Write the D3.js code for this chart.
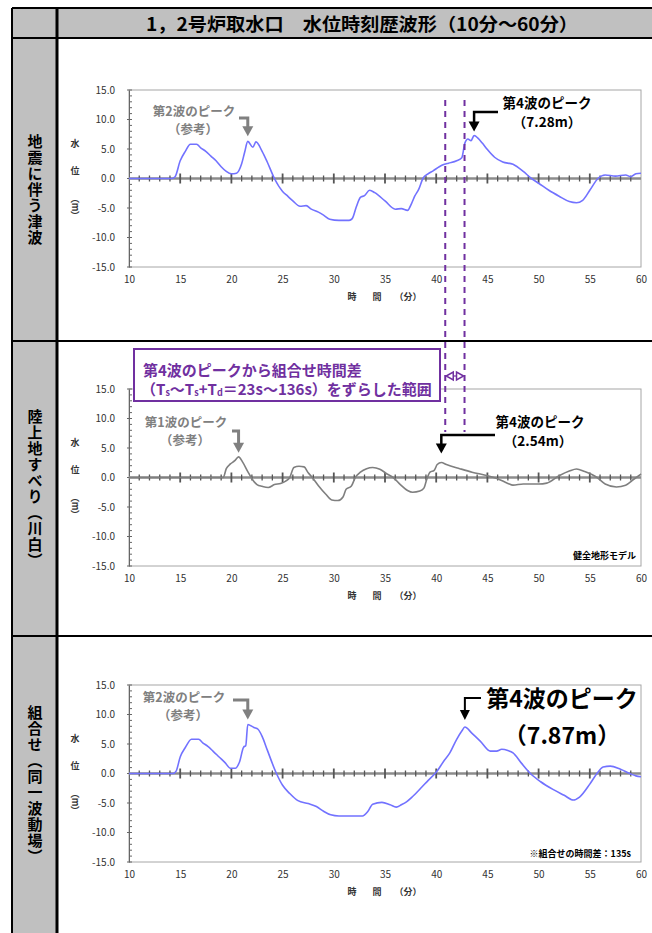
<!DOCTYPE html>
<html>
<head>
<meta charset="utf-8">
<script src="https://cdn.jsdelivr.net/npm/d3@7"></script>
<style>
  body { margin: 0; background: #fff; }
  svg { display: block; }
  text { font-family: "Noto Sans CJK JP", "Noto Sans", sans-serif; }
</style>
</head>
<body>
<svg id="chart" width="652" height="933"></svg>
<script>
// ---- text and axis labels ----
const title = "1，2号炉取水口　水位時刻歴波形（10分～60分）";
const rowLabels = ["地震に伴う津波", "陸上地すべり（川白）", "組合せ（同一波動場）"];
const xTicks = [10, 15, 20, 25, 30, 35, 40, 45, 50, 55, 60];
const yTicks = [15, 10, 5, 0, -5, -10, -15];

// ---- water level time histories [minutes, metres] ----
const quakeWave = [
  [10, 0], [14.2, 0], [14.5, 0.3], [15, 3.0], [15.5, 4.6], [16, 5.8], [16.6, 5.8],
  [17, 5.2], [17.5, 4.6], [18, 3.8], [18.5, 3.0], [19, 2.0], [19.5, 1.2], [20, 0.8],
  [20.5, 0.9], [21, 2.5], [21.3, 4.5], [21.6, 6.3], [22.1, 5.3], [22.4, 6.2],
  [23, 4.6], [23.5, 2.8], [24.2, 0], [25, -2.2], [25.5, -3.0], [26, -3.8],
  [26.7, -4.7], [27.3, -4.6], [27.8, -5.2], [28.5, -5.7], [29, -6.2], [29.6, -6.9],
  [30.5, -7.1], [31.5, -7.1], [31.8, -6.8], [32.2, -4.8], [32.6, -3.2], [33, -2.9],
  [33.5, -2.0], [34, -2.4], [35, -3.8], [36, -5.2], [36.6, -5.1], [37.2, -5.4],
  [37.6, -4.2], [37.9, -3.0], [38.3, -1.8], [38.7, 0], [39.2, 0.8], [39.7, 1.3],
  [40.3, 2.0], [40.8, 2.4], [41.2, 2.6], [42, 3.0], [42.5, 3.5], [42.8, 6.0],
  [43.1, 6.7], [43.4, 6.4], [43.7, 7.28], [44.1, 6.8], [44.5, 6.0], [45, 4.9],
  [45.7, 3.6], [46.5, 2.8], [47.5, 2.4], [48.5, 1.2], [49.3, 0], [50, -0.8],
  [51, -2.0], [52, -3.0], [53, -3.9], [53.7, -4.1], [54.3, -3.7], [55, -2.0],
  [55.8, 0], [56.5, 0.6], [57.5, 0.4], [58.5, 0.6], [59, 0.3], [59.5, 0.8], [60, 0.9]
];

const slideWave = [
  [10, 0], [19.2, 0], [19.5, 1.5], [19.9, 2.3], [20.3, 2.8], [20.7, 3.5], [21.1, 2.6],
  [21.6, 1.0], [22, -0.2], [22.5, -1.2], [23, -1.5], [23.6, -1.7], [24.2, -1.2],
  [24.8, -1.0], [25.3, -0.6], [25.7, 0.0], [26.1, 1.7], [26.6, 1.9], [27.1, 1.8],
  [27.5, 0.8], [27.9, 0], [28.5, -1.4], [29.2, -2.8], [29.8, -3.8], [30.4, -3.9],
  [30.9, -3.3], [31.2, -2.0], [31.7, -1.5], [32.1, 0], [32.6, 0.9], [33.2, 1.5],
  [33.8, 1.7], [34.5, 1.4], [35.2, 0.6], [35.8, 0], [36.5, -1.2], [37.2, -2.2],
  [37.7, -2.5], [38.4, -2.3], [38.8, -1.8], [39.1, -0.2], [39.4, 0.9], [39.8, 1.2],
  [40.1, 2.2], [40.5, 2.54], [41, 2.2], [42.3, 1.5], [43.5, 0.9], [44.9, 0.35],
  [46, -0.2], [47, -1.0], [47.5, -1.3], [48.5, -1.1], [50, -1.1], [50.8, -0.95],
  [52, 0.3], [53, 1.1], [53.7, 1.45], [54.5, 1.0], [55.7, 0], [56.5, -1.1],
  [57.6, -1.6], [58.5, -1.3], [59.3, -0.3], [60, 0.6]
];

const comboWave = [
  [10, 0], [14.3, 0], [14.6, 0.4], [15, 2.8], [15.5, 4.4], [16.1, 5.8], [16.8, 5.8],
  [17.2, 5.2], [17.7, 4.6], [18.2, 3.8], [18.8, 2.8], [19.4, 1.8], [19.9, 0.9],
  [20.4, 0.9], [20.8, 2.0], [21.2, 4.5], [21.4, 4.7], [21.6, 8.3], [21.9, 8.1],
  [22.2, 7.8], [22.6, 7.5], [23, 6.3], [23.5, 4.0], [24.4, 0], [25, -2.0],
  [25.7, -3.4], [26.5, -4.6], [27.5, -5.1], [28.3, -5.6], [29, -6.4], [29.7, -7.0],
  [30.5, -7.2], [32.8, -7.2], [33.3, -6.5], [33.8, -5.2], [34.7, -4.9], [35.5, -5.3],
  [36.1, -5.7], [36.6, -5.3], [37.1, -4.8], [37.7, -3.9], [38.6, -2.3], [39.2, -1.2],
  [40, 0.2], [40.7, 2.0], [41.3, 3.4], [42, 5.8], [42.5, 7.2], [42.8, 7.87],
  [43.5, 6.8], [44.3, 5.5], [45.3, 3.8], [45.9, 3.8], [46.4, 4.1], [47, 3.9],
  [47.5, 3.5], [48.3, 1.8], [49.2, 0], [50.2, -1.4], [51.4, -2.7], [52.5, -3.7],
  [53.4, -4.5], [54, -4.0], [55, -1.8], [55.7, 0], [56.3, 1.1], [57, 1.25],
  [58, 0.7], [58.9, 0], [59.5, -0.4], [60, -0.55]
];

// time lag window applied to the landslide 4th-wave peak, seconds
const lagWindow = [23, 136];
const comboLag = 135;

// ---- drawing ----
const svg = d3.select("#chart");
const purple = "#7030a0";
const grayFill = "#c0c0c0";

// table frame
svg.append("rect").attr("x", 12).attr("y", 8).attr("width", 640).attr("height", 30).attr("fill", grayFill);
svg.append("rect").attr("x", 12).attr("y", 8).attr("width", 45).attr("height", 925).attr("fill", grayFill);
const frame = svg.append("g").attr("stroke", "#000");
[8, 38, 341, 636].forEach(yy => frame.append("line").attr("x1", 12).attr("x2", 652).attr("y1", yy).attr("y2", yy).attr("stroke-width", 2));
frame.append("line").attr("x1", 12).attr("x2", 12).attr("y1", 8).attr("y2", 933).attr("stroke-width", 2);
frame.append("line").attr("x1", 57).attr("x2", 57).attr("y1", 8).attr("y2", 933).attr("stroke-width", 3);

svg.append("text").attr("x", 362).attr("y", 23).attr("text-anchor", "middle")
  .attr("dominant-baseline", "central").attr("font-size", 18).attr("font-weight", 700)
  .attr("textLength", 432).attr("lengthAdjust", "spacingAndGlyphs").text(title);

const rowMid = [189.5, 488.5, 784.5];
rowLabels.forEach((lab, i) => {
  svg.append("text").attr("x", 35).attr("y", rowMid[i]).attr("text-anchor", "middle")
    .style("writing-mode", "vertical-rl").attr("font-size", 15).attr("font-weight", 700)
    .attr("letter-spacing", 1).text(lab);
});

const x = d3.scaleLinear().domain([10, 60]).range([129, 641]);

const panels = [
  { top: 90, data: quakeWave, color: "#7272ff" },
  { top: 389, data: slideWave, color: "#7f7f7f" },
  { top: 685, data: comboWave, color: "#7272ff" }
];

panels.forEach((p, i) => {
  const y = d3.scaleLinear().domain([-15, 15]).range([p.top + 177, p.top]);
  p.y = y;
  const g = svg.append("g");

  g.append("rect").attr("x", x(10)).attr("y", y(15)).attr("width", x(60) - x(10))
    .attr("height", y(-15) - y(15)).attr("fill", "#fff").attr("stroke", "#a6a6a6");

  // y axis with labels
  const ay = g.append("g").attr("transform", `translate(${x(10)},0)`)
    .call(d3.axisLeft(y).tickValues(yTicks).tickFormat(d => d.toFixed(1)).tickSize(0).tickPadding(14));
  ay.select(".domain").attr("stroke", "#666");
  ay.selectAll("text").attr("font-size", 10).attr("fill", "#333").attr("font-family", "Noto Sans CJK JP");
  g.append("g").selectAll("line").data(d3.range(-15, 16)).join("line")
    .attr("x1", d => d % 5 === 0 ? x(10) - 2 : x(10)).attr("x2", x(10) + 3)
    .attr("y1", d => y(d)).attr("y2", d => y(d)).attr("stroke", "#666");

  // x axis labels under the plot
  const ax = g.append("g").attr("transform", `translate(0,${y(-15)})`)
    .call(d3.axisBottom(x).tickValues(xTicks).tickSize(0).tickPadding(9));
  ax.select(".domain").remove();
  ax.selectAll("text").attr("font-size", 10).attr("fill", "#333").attr("font-family", "Noto Sans CJK JP");

  const lb = y(-15) + 29;
  [["時", 352], ["間", 377], ["（分）", 408]].forEach(([t, xx]) =>
    g.append("text").attr("x", xx).attr("y", lb).attr("text-anchor", "middle")
      .attr("dominant-baseline", "central").attr("font-size", 9).attr("font-weight", 700)
      .attr("fill", "#333").text(t));

  // y title
  g.append("text").attr("x", 75).attr("y", p.top + 53).attr("text-anchor", "middle")
    .attr("dominant-baseline", "central").attr("font-size", 9).attr("font-weight", 700).attr("fill", "#333").text("水");
  g.append("text").attr("x", 75).attr("y", p.top + 80).attr("text-anchor", "middle")
    .attr("dominant-baseline", "central").attr("font-size", 9).attr("font-weight", 700).attr("fill", "#333").text("位");
  g.append("text").attr("x", 75).attr("y", p.top + 117).attr("text-anchor", "middle")
    .style("writing-mode", "vertical-rl").attr("font-size", 9).attr("font-weight", 700).attr("fill", "#333").text("（m）");

  // zero line with minute ticks
  const zy = y(0);
  g.append("line").attr("x1", x(10)).attr("x2", x(60)).attr("y1", zy).attr("y2", zy)
    .attr("stroke", "#8c8c8c").attr("stroke-width", 2.5);
  g.append("g").selectAll("line").data(d3.range(11, 60)).join("line")
    .attr("x1", d => x(d)).attr("x2", d => x(d))
    .attr("y1", d => zy - (d % 5 === 0 ? 5 : 3)).attr("y2", d => zy + (d % 5 === 0 ? 5 : 3))
    .attr("stroke", "#555").attr("stroke-width", d => d % 5 === 0 ? 1.8 : 1.3);

  const line = d3.line().x(d => x(d[0])).y(d => y(d[1])).curve(d3.curveMonotoneX);
  g.append("path").datum(p.data).attr("d", line).attr("fill", "none")
    .attr("stroke", p.color).attr("stroke-width", 1.6);
});

// peak helpers
function peakIn(data, t0, t1) {
  return d3.greatest(data.filter(d => d[0] >= t0 && d[0] <= t1), d => d[1]);
}

function arrow(pk, y, startX, elbowY, gap, color, w, head) {
  const tx = x(pk[0]), ty = y(pk[1]) - gap;
  svg.append("path").attr("d", `M${startX},${elbowY}H${tx}V${ty - head[1] + 1}`)
    .attr("fill", "none").attr("stroke", color).attr("stroke-width", w);
  svg.append("path").attr("d", `M${tx - head[0] / 2},${ty - head[1]}L${tx + head[0] / 2},${ty - head[1]}L${tx},${ty}Z`)
    .attr("fill", color);
}

function label(t, xx, yy, size, color, anchor) {
  return svg.append("text").attr("x", xx).attr("y", yy).attr("text-anchor", anchor || "middle")
    .attr("dominant-baseline", "central").attr("font-size", size).attr("font-weight", 700)
    .attr("fill", color).text(t);
}

// two-line callout drawn as one text block
function label2(lines, xs, yy, lineGap, size, color) {
  const t = svg.append("text").attr("y", yy).attr("text-anchor", "middle")
    .attr("dominant-baseline", "central").attr("font-size", size).attr("font-weight", 700)
    .attr("fill", color);
  lines.forEach((s, k) => t.append("tspan").attr("x", xs[k]).attr("dy", k === 0 ? 0 : lineGap).text(s));
  return t;
}

const refGray = "#808080";
const [p1, p2, p3] = panels;

// panel 1
const q2 = peakIn(quakeWave, 20, 23), q4 = peakIn(quakeWave, 38, 60);
label2(["第2波のピーク", "（参考）"], [194, 193], 110, 17.5, 12.5, refGray);
arrow(q2, p1.y, 239, 118, 5, refGray, 3, [11, 10]);
label2(["第4波のピーク", `（${q4[1].toFixed(2)}m）`], [547, 547], 102, 19, 13.5, "#000");
arrow(q4, p1.y, 498, 112, 4, "#000", 2.5, [11, 10]);

// panel 2
const s1 = peakIn(slideWave, 19, 23), s4 = peakIn(slideWave, 38, 60);
label2(["第1波のピーク", "（参考）"], [186, 185], 421, 18, 12.5, refGray);
arrow(s1, p2.y, 232, 431, 4, refGray, 3, [11, 10]);
label2(["第4波のピーク", `（${s4[1].toFixed(2)}m）`], [540, 538], 421, 19, 13.5, "#000");
arrow(s4, p2.y, 495, 435, 9, "#000", 2.5, [11, 10]);
label("健全地形モデル", 636, 555, 9, "#000", "end");

// panel 3
const c2 = peakIn(comboWave, 20, 23), c4 = peakIn(comboWave, 38, 60);
label2(["第2波のピーク", "（参考）"], [184, 183], 696, 17.5, 12.5, refGray);
arrow(c2, p3.y, 233, 700, 5, refGray, 3, [11, 10]);
label2(["第4波のピーク", `（${c4[1].toFixed(2)}m）`], [562, 562], 697, 37, 23, "#000");
arrow(c4, p3.y, 481, 698, 7, "#000", 2, [10, 10]);
label(`※組合せの時間差：${comboLag}s`, 631, 853, 9, "#000", "end");

// lag window lines from the landslide 4th-wave peak
const lagX = lagWindow.map(s => x(s4[0] + s / 60));
lagX.forEach(xx => svg.append("line").attr("x1", xx).attr("x2", xx).attr("y1", 100).attr("y2", 432)
  .attr("stroke", purple).attr("stroke-width", 2).attr("stroke-dasharray", "6,5"));

// double-headed arrow between the lag lines
const ay2 = 376;
svg.append("line").attr("x1", lagX[0] + 2).attr("x2", lagX[1] - 2).attr("y1", ay2).attr("y2", ay2)
  .attr("stroke", purple).attr("stroke-width", 1.2);
[[lagX[0] + 1, 1], [lagX[1] - 1, -1]].forEach(([xx, dir]) =>
  svg.append("path").attr("d", `M${xx},${ay2}L${xx + dir * 7},${ay2 - 4}L${xx + dir * 7},${ay2 + 4}Z`)
    .attr("fill", "#fff").attr("stroke", purple).attr("stroke-width", 1.5));

// lag window caption
svg.append("rect").attr("x", 134).attr("y", 349).attr("width", 306).attr("height", 52)
  .attr("fill", "#fff").attr("stroke", purple).attr("stroke-width", 2);
const cap = svg.append("text").attr("y", 369).attr("dominant-baseline", "central")
  .attr("font-size", 15).attr("font-weight", 700).attr("fill", purple);
cap.append("tspan").attr("x", 143).text("第4波のピークから組合せ時間差");
cap.append("tspan").attr("x", 141).attr("dy", 19).text("（T");
cap.append("tspan").attr("font-size", 9).attr("dy", 4).text("s");
cap.append("tspan").attr("dy", -4).text("～T");
cap.append("tspan").attr("font-size", 9).attr("dy", 4).text("s");
cap.append("tspan").attr("dy", -4).text("+T");
cap.append("tspan").attr("font-size", 9).attr("dy", 4).text("d");
cap.append("tspan").attr("dy", -4).text(`＝${lagWindow[0]}s～${lagWindow[1]}s）をずらした範囲`);
</script>
</body>
</html>
